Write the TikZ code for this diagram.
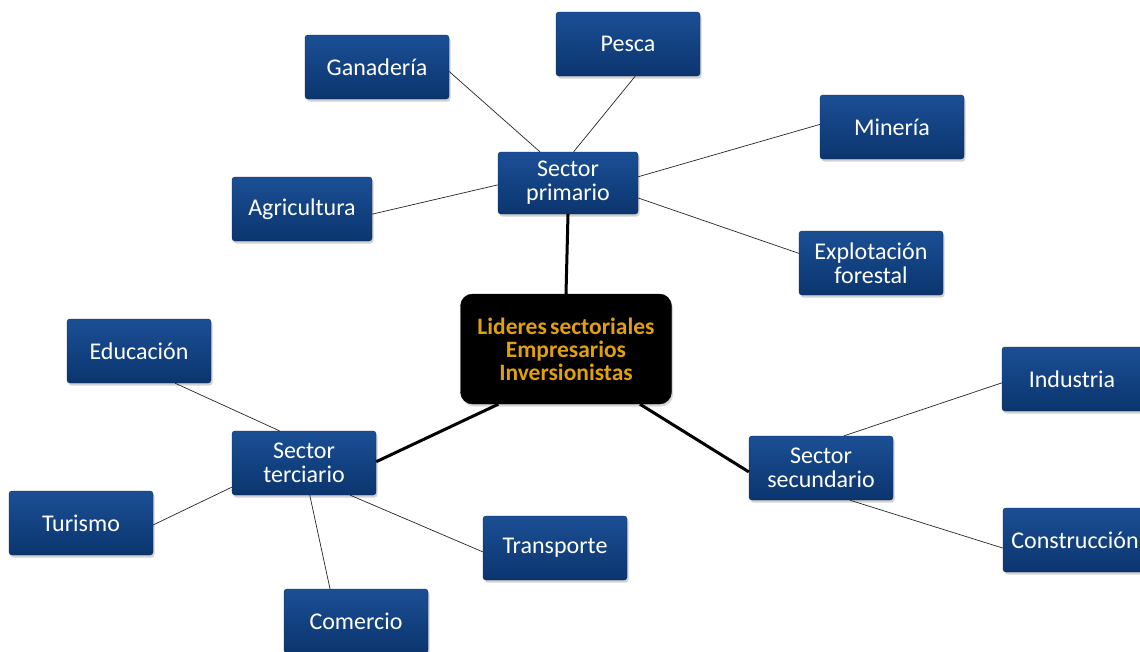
\documentclass[tikz,border=0pt]{standalone}
\usepackage{fontspec}
\setmainfont{Carlito}
\usetikzlibrary{calc,shadows}
\definecolor{boxtop}{HTML}{1B4F95}
\definecolor{boxbot}{HTML}{0B356E}
\definecolor{gold}{HTML}{E0A010}
\tikzset{
  bluebox/.style={rectangle, rounded corners=3pt, top color=boxtop, bottom color=boxbot,
    draw=boxbot!80!black, line width=0.4pt, text=white, align=center,
    minimum width=144pt, minimum height=64pt, inner sep=2pt,
    font=\fontsize{24}{24}\selectfont,
    drop shadow={opacity=0.35, shadow xshift=1.5pt, shadow yshift=-2.5pt}},
  centerbox/.style={rectangle, rounded corners=12pt, fill=black, draw=black, text=gold,
    align=center, minimum width=211pt, minimum height=110pt, inner sep=2pt,
    font=\bfseries\fontsize{23.5}{23}\selectfont,
    drop shadow={opacity=0.3, shadow xshift=1.5pt, shadow yshift=-2.5pt}},
  thin/.style={draw=black!85, line width=0.7pt},
  thick/.style={draw=black, line width=3pt}
}
\begin{document}
\begin{tikzpicture}[x=1pt,y=-1pt]
\useasboundingbox (0,0) rectangle (1140,651);
\fill[white] (0,0) rectangle (1140,651);

\node[bluebox] (gan) at (377,67) {Ganadería};
\node[bluebox] (pes) at (628,44) {Pesca};
\node[bluebox] (min) at (892,127) {Minería};
\node[bluebox, minimum width=140pt] (agr) at (302,209) {Agricultura};
\node[bluebox, minimum width=140pt, minimum height=62pt] (pri) at (568,183) {Sector\\primario};
\node[bluebox] (exp) at (871,263) {Explotación\\forestal};
\node[centerbox] (cen) at (566,349) {Lideres\hspace{-2pt} sectoriales\\Empresarios\\Inversionistas};
\node[bluebox] (edu) at (139,351) {Educación};
\node[bluebox] (ter) at (304,463) {Sector\\terciario};
\node[bluebox] (tur) at (81,523) {Turismo};
\node[bluebox] (tra) at (555,548) {Transporte};
\node[bluebox] (com) at (356,621) {Comercio};
\node[bluebox, minimum width=150pt] (ind) at (1077,379) {\hspace*{-10pt}Industria};
\node[bluebox, minimum width=150pt] (con) at (1078,540) {\hspace*{-6pt}Construcción};
\node[bluebox] (sec) at (821,468) {Sector\\secundario};

% thin connectors, sector primario
\draw[thin] ($(gan.north east)!0.57!(gan.south east)$) -- ($(pri.north west)!0.3!(pri.north east)$);
\draw[thin] ($(pes.south west)!0.55!(pes.south east)$) -- ($(pri.north west)!0.54!(pri.north east)$);
\draw[thin] ($(min.north west)!0.46!(min.south west)$) -- ($(pri.north east)!0.4!(pri.south east)$);
\draw[thin] ($(agr.north east)!0.58!(agr.south east)$) -- ($(pri.north west)!0.53!(pri.south west)$);
\draw[thin] ($(exp.north west)!0.35!(exp.south west)$) -- ($(pri.north east)!0.74!(pri.south east)$);
% sector terciario
\draw[thin] ($(edu.south west)!0.75!(edu.south east)$) -- ($(ter.north west)!0.33!(ter.north east)$);
\draw[thin] ($(tur.north east)!0.53!(tur.south east)$) -- ($(ter.north west)!0.875!(ter.south west)$);
\draw[thin] ($(com.north west)!0.32!(com.north east)$) -- ($(ter.south west)!0.54!(ter.south east)$);
\draw[thin] ($(tra.north west)!0.56!(tra.south west)$) -- ($(ter.south west)!0.82!(ter.south east)$);
% sector secundario
\draw[thin] ($(ind.north west)!0.56!(ind.south west)$) -- ($(sec.north west)!0.66!(sec.north east)$);
\draw[thin] ($(con.north west)!0.625!(con.south west)$) -- ($(sec.south west)!0.7!(sec.south east)$);
% thick connectors
\draw[thick] (pri.south) -- (cen.north);
\draw[thick] ($(cen.south west)!0.18!(cen.south east)$) -- ($(ter.north east)!0.48!(ter.south east)$);
\draw[thick] ($(cen.south west)!0.85!(cen.south east)$) -- ($(sec.north west)!0.56!(sec.south west)$);
\end{tikzpicture}
\end{document}
